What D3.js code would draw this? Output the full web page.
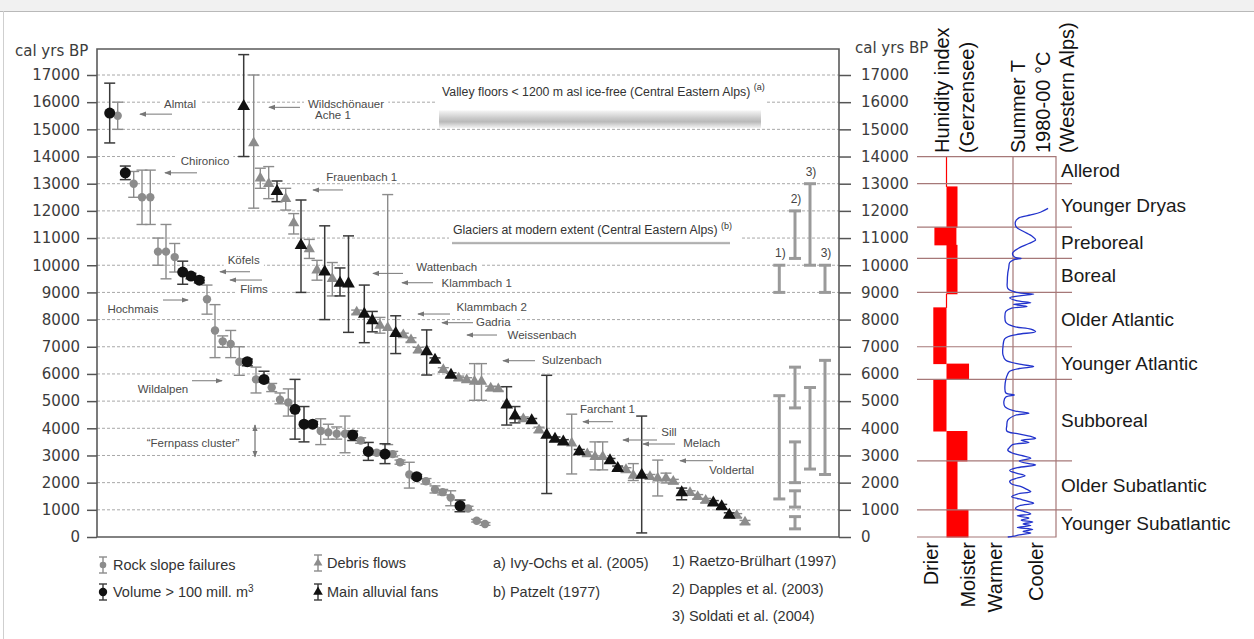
<!DOCTYPE html>
<html><head><meta charset="utf-8">
<script src="https://cdn.jsdelivr.net/npm/d3@7"></script>
<style>
body{margin:0;background:#fff;}
svg{display:block;}
</style></head>
<body>
<svg id="chart" width="1254" height="639"></svg>
<script>
// ================= DATA =================
const yearTicks = [0,1000,2000,3000,4000,5000,6000,7000,8000,9000,10000,11000,12000,13000,14000,15000,16000,17000];
const gridYears = yearTicks.slice(1);

// [sequence position, age (cal yrs BP), upper age, lower age]
const rockSlopeFailures = [
 [20.7,15500,16000,15000],[36.7,13000,13450,12500],[45,12500,13500,11500],[53.3,12500,13500,11500],
 [61,10500,11000,10000],[69,10500,11500,9500],[77.7,10300,10800,9750],[110,8750,9270,8200],
 [118,7600,8550,6600],[125.7,7200,7400,6980],[133.7,7100,7600,6600],[142.3,6450,7000,5950],
 [159,5800,6250,5300],[174.7,5500,5650,5350],[183,5050,5300,4900],[191.3,4950,5450,4450],
 [223.7,3900,4350,3400],[231.3,3850,4150,3600],[239.7,3800,4050,3600],[248,3800,4450,3100],
 [263.7,3550,3650,3450],[279.7,3100,3180,3020],[295.7,3050,3150,2950],[303,2750,2830,2680],
 [312.3,2300,2750,1800],[329,2050,2150,1950],[338,1750,1880,1620],[345.7,1650,1750,1550],
 [353.7,1450,1700,1150],[371,1050,1130,980],[379.7,600,650,550],[388,480,530,430]
];
const largeVolumeFailures = [
 [12.7,15600,16700,14500],[28.3,13400,13650,13150],[85.7,9750,10150,9300],[94,9600,9700,9500],
 [102.3,9450,9550,9350],[150.3,6450,6550,6300],[167,5800,6100,5700],[198,4700,5800,3600],
 [207,4150,4800,3500],[215.7,4150,4250,4050],[255.7,3750,3900,3550],[271.3,3150,3480,2820],
 [288,3050,3430,2700],[319.7,2220,2300,2150],[363,1150,1360,930]
];
const debrisFlows = [
 [156.7,14500,17000,12100],[163.3,13200,13570,12830],[171.7,13000,13630,12450],[188.7,12450,12830,12030],
 [196.7,11550,11900,11150],[212.3,10600,10950,10250],[220,9820,10180,9450],[235.3,9500,10100,8870],
 [259.7,8270,8350,8200],[283,7780,8080,7500],[290.7,7700,12600,3400],[306.3,7430,7500,7350],
 [314,7250,7330,7170],[321.3,6880,6980,6780],[346.3,6150,6230,6070],[361.7,5840,5920,5760],
 [369.7,5780,5860,5700],[377.5,5720,6380,5030],[384.5,5720,6380,5030],[393.7,5470,5550,5390],
 [401.3,5450,5530,5370],[426.3,4340,4420,4260],[442,3940,4040,3840],[474.7,3450,4520,2320],
 [490.3,3050,3130,2970],[498,2950,3500,2470],[505.7,2950,3500,2470],[529,2470,2550,2390],
 [536.3,2260,2700,2080],[553,2220,2300,2140],[560.7,2160,2830,1510],[569,2160,2350,1990],
 [576.3,2040,2120,1960],[593,1630,1700,1560],[600.7,1480,1560,1400],[608.7,1340,1420,1260],
 [639.7,790,860,720],[648,540,610,470]
];
const alluvialFans = [
 [146.7,15850,17750,14000],[180,12720,13100,12340],[204,10730,12400,9000],[227.7,9760,11450,8000],
 [243,9340,9900,8870],[251.5,9320,11080,7530],[267.3,8200,9270,7150],[275.3,7960,8300,7550],
 [298.7,7490,8140,6750],[329.7,6820,7620,5960],[338,6510,6590,6430],[354,5960,6040,5880],
 [409.7,4860,5530,4120],[418,4460,4800,4200],[434.7,4280,4360,4200],[449.7,3750,5950,1600],
 [458,3600,3680,3520],[466.3,3500,3580,3420],[482.3,3140,3220,3060],[513,2810,2890,2730],
 [520.7,2530,2610,2450],[544.7,2280,4450,150],[584.7,1630,1800,1370],[616.3,1260,1340,1180],
 [624.7,1120,1200,1040],[632.3,810,890,730]
];
// [sequence, upper, lower, reference tag]
const referenceRanges = [
 [682.3,10000,9000,"1)"],[698,12000,10250,"2)"],[713,13000,10000,"3)"],[728,10000,9000,"3)"],
 [682.3,5200,1400,""],[698,6250,4750,""],[698,3500,2000,""],[698,1700,1100,""],[698,750,300,""],
 [713,5500,2500,""],[728,6500,2300,""]
];
// humidity index steps: [older age, younger age, low, high]
const humiditySteps = [
 [14000,12900,0,0],[12900,11400,0,1],[11400,10750,-1.1,0.9],[10750,8950,0,1],[8950,8450,0,0],
 [8450,6380,-1.2,0],[6380,5800,0,2.05],[5800,3900,-1.2,0],[3900,2800,0,1.9],[2800,1000,0,1],[1000,0,0,2]
];
// summer temperature: [age, index (higher = cooler)]
const summerTemp = [
 [12090,4.8],[11950,4.0],[11850,3.0],[11750,1.8],[11600,1.4],[11400,1.5],[11250,2.2],[11050,3.2],[10930,3.5],
 [10800,2.8],[10600,1.6],[10440,1.1],[10300,1.3],[10250,2.0],[10200,1.2],[10100,0.8],[9900,0.7],[9700,0.6],
 [9400,0.55],[9150,0.6],[9000,1.5],[8940,3.3],[8880,2.0],[8800,0.8],[8700,1.5],[8620,3.0],[8560,1.2],
 [8480,2.6],[8420,1.0],[8300,0.4],[8100,0.3],[7900,0.4],[7750,1.2],[7650,3.0],[7555,3.5],[7450,1.5],
 [7300,0.3],[7000,0.1],[6700,0.1],[6500,0.4],[6350,2.0],[6270,3.3],[6200,1.8],[6100,0.8],[6000,0.6],
 [5800,0.4],[5500,0.3],[5300,0.4],[5225,1.3],[5150,0.4],[5000,0.2],[4800,0.3],[4650,1.2],[4550,2.8],
 [4480,1.4],[4300,0.6],[4100,0.5],[3900,0.5],[3800,1.6],[3700,3.0],[3630,3.5],[3560,2.0],[3480,2.8],
 [3400,1.1],[3300,0.8],[3200,0.6],[3100,1.0],[3000,2.0],[2900,3.0],[2800,1.8],[2700,2.8],[2650,3.5],
 [2550,1.6],[2450,0.8],[2350,1.5],[2250,2.4],[2150,1.4],[2050,0.8],[1950,1.0],[1850,2.0],[1750,2.6],
 [1670,3.0],[1580,1.6],[1480,1.0],[1400,1.8],[1300,2.8],[1240,3.3],[1150,1.8],[1050,1.4],[950,2.2],
 [850,3.0],[780,1.6],[700,2.8],[620,2.0],[550,3.2],[480,2.2],[420,3.0],[350,1.6],[280,3.2],[200,2.2],
 [150,3.0],[80,1.8],[30,1.2],[0,0.6]
];
// [name, older boundary, younger boundary]
const periods = [
 ["Allerod",14000,13000],["Younger Dryas",13000,11400],["Preboreal",11400,10250],["Boreal",10250,9000],
 ["Older Atlantic",9000,7000],["Younger Atlantic",7000,5800],["Subboreal",5800,2800],
 ["Older Subatlantic",2800,1000],["Younger Subatlantic",1000,0]
];
// site labels (data coordinates): label, text pos, anchor, arrow from->to at age
const annotations = [
 {t:"Almtal",tx:83,ty:15950,a:"middle",ax0:75,ax1:43,ay:15560},
 {t:"Wildschönauer",tx:211,ty:15930,a:"start",ax0:203,ax1:172,ay:15810},
 {t:"Ache 1",tx:218,ty:15525,a:"start"},
 {t:"Chironico",tx:108,ty:13830,a:"middle",ax0:100,ax1:68,ay:13400},
 {t:"Frauenbach 1",tx:264.7,ty:13256,a:"middle",ax0:246,ax1:216,ay:12770},
 {t:"Köfels",tx:146.7,ty:10190,a:"middle",ax0:153,ax1:123,ay:9760},
 {t:"Flims",tx:157,ty:9124,a:"middle",ax0:165,ax1:133,ay:9455},
 {t:"Hochmais",tx:36,ty:8390,a:"middle",ax0:66,ax1:91,ay:8720},
 {t:"Wildalpen",tx:66,ty:5445,a:"middle",ax0:95,ax1:125,ay:5750},
 {t:"Wattenbach",tx:349.7,ty:9945,a:"middle",ax0:306,ax1:276,ay:9700},
 {t:"Klammbach 1",tx:379.7,ty:9356,a:"middle",ax0:336,ax1:305,ay:9356},
 {t:"Klammbach 2",tx:394.7,ty:8473,a:"middle",ax0:353,ax1:321,ay:8205},
 {t:"Gadria",tx:396.3,ty:7921,a:"middle",ax0:376,ax1:345,ay:7885},
 {t:"Weissenbach",tx:445,ty:7432,a:"middle",ax0:400,ax1:370,ay:7432},
 {t:"Sulzenbach",tx:474.7,ty:6512,a:"middle",ax0:438,ax1:406,ay:6486},
 {t:"Farchant 1",tx:510.5,ty:4700,a:"middle",ax0:516,ax1:486,ay:4242},
 {t:"Sill",tx:572,ty:3852,a:"middle",ax0:560,ax1:526,ay:3569},
 {t:"Melach",tx:604.7,ty:3447,a:"middle",ax0:578,ax1:546,ay:3422},
 {t:"Voldertal",tx:634.7,ty:2465,a:"middle",ax0:616,ax1:583,ay:2807},
 {t:"\u201CFernpass cluster\u201D",tx:96,ty:3470,a:"middle"}
];

// ================= DRAW =================
const W = 1254, H = 639;
const F_MAIN = "'Liberation Sans', Arial, sans-serif";
const F_TICK = "'DejaVu Sans', sans-serif";
const GREY = "#8c8c8c";
const svg = d3.select("#chart");

svg.append("rect").attr("width",W).attr("height",H).attr("fill","#fff");
svg.append("rect").attr("width",W).attr("height",11).attr("fill","#f1f1f1");
svg.append("line").attr("x1",0).attr("x2",W).attr("y1",11.5).attr("y2",11.5).attr("stroke","#b9b9b9");
svg.append("line").attr("x1",3.5).attr("x2",3.5).attr("y1",11).attr("y2",H).attr("stroke","#cfcfcf");

const y = d3.scaleLinear().domain([0,17000]).range([537,75]);
const x = d3.scaleLinear().domain([0,742]).range([97,839]);
const PLOT_TOP = 49;

const defs = svg.append("defs");
const g1 = defs.append("linearGradient").attr("id","bandA").attr("x1",0).attr("x2",0).attr("y1",0).attr("y2",1);
[[0,"#f6f6f6"],[0.45,"#c9c9c9"],[0.65,"#b9b9b9"],[1,"#f3f3f3"]].forEach(s=>g1.append("stop").attr("offset",s[0]).attr("stop-color",s[1]));
const g2 = defs.append("linearGradient").attr("id","bandB").attr("x1",0).attr("x2",0).attr("y1",0).attr("y2",1);
[[0,"#e6e6e6"],[0.5,"#9a9a9a"],[1,"#e6e6e6"]].forEach(s=>g2.append("stop").attr("offset",s[0]).attr("stop-color",s[1]));
defs.append("marker").attr("id","arr").attr("viewBox","0 -4 8 8").attr("refX",7).attr("refY",0)
  .attr("markerWidth",7).attr("markerHeight",7).attr("markerUnits","userSpaceOnUse").attr("orient","auto-start-reverse")
  .append("path").attr("d","M0,-3L8,0L0,3").attr("fill","#777");

// grid
const gGrid = svg.append("g");
gGrid.selectAll("line").data(gridYears).join("line")
  .attr("x1",x(0)).attr("x2",x(742)).attr("y1",d=>y(d)).attr("y2",d=>y(d))
  .attr("stroke","#a8a8a8").attr("stroke-width",1).attr("stroke-dasharray","3,2");

const gMask = svg.append("g");
const gBands = svg.append("g");
const gBars = svg.append("g");
const gPts = svg.append("g");
const gAnn = svg.append("g");

// bands
gMask.append("rect").attr("x",435).attr("y",80).attr("width",332).attr("height",29).attr("fill","#fff");
gBands.append("rect").attr("x",439).attr("y",y(15700)).attr("width",322).attr("height",y(15050)-y(15700)).attr("fill","url(#bandA)");
const tA = gAnn.append("text").attr("x",442).attr("y",y(16400)).attr("dy","0.35em")
  .attr("font-family",F_MAIN).attr("font-size",12.3).attr("fill","#333");
tA.append("tspan").text("Valley floors < 1200 m asl ice-free (Central Eastern Alps) ");
tA.append("tspan").attr("font-size",9).attr("dy","-0.6em").text("(a)");
gMask.append("rect").attr("x",449).attr("y",220).attr("width",292).attr("height",20).attr("fill","#fff");
gBands.append("rect").attr("x",452).attr("y",y(10870)).attr("width",278).attr("height",y(10760)-y(10870)).attr("fill","url(#bandB)");
const tB = gAnn.append("text").attr("x",453).attr("y",y(11295)).attr("dy","0.35em")
  .attr("font-family",F_MAIN).attr("font-size",12.3).attr("fill","#333");
tB.append("tspan").text("Glaciers at modern extent (Central Eastern Alps) ");
tB.append("tspan").attr("font-size",9).attr("dy","-0.6em").text("(b)");

// error bars: rows are [seq, age, upper, lower]
function drawBars(data, color, width, cap){
  const g = gBars.append("g").attr("stroke",color).attr("stroke-width",width);
  g.selectAll("line.v").data(data).join("line").attr("class","v")
    .attr("x1",d=>x(d[0])).attr("x2",d=>x(d[0])).attr("y1",d=>y(d[2])).attr("y2",d=>y(d[3]));
  g.selectAll("line.t").data(data).join("line").attr("class","t")
    .attr("x1",d=>x(d[0])-cap).attr("x2",d=>x(d[0])+cap).attr("y1",d=>y(d[2])).attr("y2",d=>y(d[2]));
  g.selectAll("line.b").data(data).join("line").attr("class","b")
    .attr("x1",d=>x(d[0])-cap).attr("x2",d=>x(d[0])+cap).attr("y1",d=>y(d[3])).attr("y2",d=>y(d[3]));
}
drawBars(rockSlopeFailures, GREY, 1.4, 5.5);
drawBars(debrisFlows, GREY, 1.4, 5.5);
drawBars(largeVolumeFailures, "#3a3a3a", 1.5, 5.5);
drawBars(alluvialFans, "#3a3a3a", 1.5, 5.5);
drawBars(referenceRanges.map(d=>[d[0],(d[1]+d[2])/2,d[1],d[2]]), "#9a9a9a", 3, 6);
gAnn.selectAll("text.ref").data(referenceRanges.filter(d=>d[3])).join("text").attr("class","ref")
  .attr("x",d=>x(d[0])+1).attr("y",d=>y(d[1])-12).attr("dy","0.35em").attr("text-anchor","middle")
  .attr("font-family",F_MAIN).attr("font-size",12).attr("fill","#444").text(d=>d[3]);

// points
gPts.selectAll("circle.r").data(rockSlopeFailures).join("circle").attr("class","r")
  .attr("cx",d=>x(d[0])).attr("cy",d=>y(d[1])).attr("r",4.2).attr("fill",GREY);
gPts.selectAll("circle.v").data(largeVolumeFailures).join("circle").attr("class","v")
  .attr("cx",d=>x(d[0])).attr("cy",d=>y(d[1])).attr("r",5.5).attr("fill","#111");
const triG = d3.symbol().type(d3.symbolTriangle).size(55);
const triB = d3.symbol().type(d3.symbolTriangle).size(70);
gPts.selectAll("path.d").data(debrisFlows).join("path").attr("class","d")
  .attr("transform",d=>`translate(${x(d[0])},${y(d[1])})`).attr("d",triG).attr("fill",GREY);
gPts.selectAll("path.f").data(alluvialFans).join("path").attr("class","f")
  .attr("transform",d=>`translate(${x(d[0])},${y(d[1])})`).attr("d",triB).attr("fill","#111");

// annotations
annotations.forEach(a=>{
  const t = gAnn.append("text").attr("x",x(a.tx)).attr("y",y(a.ty)).attr("dy","0.35em")
    .attr("text-anchor",a.a).attr("font-family",F_MAIN).attr("font-size",11.5).attr("fill","#4a4a4a").text(a.t);
  const bb = t.node().getBBox();
  gMask.append("rect").attr("x",bb.x-4).attr("y",bb.y).attr("width",bb.width+8).attr("height",bb.height).attr("fill","#fff");
  if(a.ax0!==undefined){
    gAnn.append("line").attr("x1",x(a.ax0)).attr("x2",x(a.ax1)).attr("y1",y(a.ay)).attr("y2",y(a.ay))
      .attr("stroke","#777").attr("stroke-width",1).attr("marker-end","url(#arr)");
  }
});
// Fernpass double arrow
gAnn.append("line").attr("x1",x(158)).attr("x2",x(158)).attr("y1",y(4120)).attr("y2",y(2955))
  .attr("stroke","#555").attr("marker-start","url(#arr)").attr("marker-end","url(#arr)");

// frame and axes
const gFrame = svg.append("g");
gFrame.append("path").attr("d",`M${x(0)},${y(0)}V${PLOT_TOP}H${x(742)}V${y(0)}H${x(0)}`)
  .attr("fill","none").attr("stroke","#5a5a5a").attr("stroke-width",1.6);

const axL = d3.axisLeft(y).tickValues(yearTicks).tickSize(10).tickPadding(7).tickFormat(d3.format("d"));
const gL = svg.append("g").attr("transform",`translate(${x(0)},0)`).call(axL);
const axR = d3.axisRight(y).tickValues(yearTicks).tickSize(12).tickPadding(10).tickFormat(d3.format("d"));
const gR = svg.append("g").attr("transform",`translate(${x(742)},0)`).call(axR);
[gL,gR].forEach(g=>{
  g.select(".domain").remove();
  g.selectAll(".tick line").attr("stroke","#555").attr("stroke-width",1.5);
  g.selectAll(".tick text").attr("font-family",F_TICK).attr("font-size",15).attr("fill","#3c3c3c");
});
svg.append("text").attr("x",15).attr("y",51).attr("dy","0.35em").attr("font-family",F_TICK)
  .attr("font-size",15).attr("fill","#3c3c3c").text("cal yrs BP");
svg.append("text").attr("x",855).attr("y",48).attr("dy","0.35em").attr("font-family",F_TICK)
  .attr("font-size",15).attr("fill","#3c3c3c").text("cal yrs BP");

// ================= RIGHT PANEL =================
const hx = d3.scaleLinear().domain([-1,2]).range([935.5,968.5]);
const tx = d3.scaleLinear().domain([0,5]).range([1002,1050]);
const PL = 917, PR = 1056, PD = 1013, PEXT = 1072;
const lineCol = "#a67878";
const gP = svg.append("g");
gP.selectAll("rect.h").data(humiditySteps).join("rect").attr("class","h")
  .attr("x",d=> d[3]-d[2] > 0 ? hx(d[2]) : hx(0)-0.6)
  .attr("width",d=> Math.max(1.2, hx(d[3])-hx(d[2])))
  .attr("y",d=>Math.min(y(d[0]),y(d[1])))
  .attr("height",d=>Math.abs(y(d[1])-y(d[0]))+0.5)
  .attr("fill","#ff0000");
gP.selectAll("line.p").data(periods.slice(1)).join("line").attr("class","p")
  .attr("x1",PL).attr("x2",PEXT).attr("y1",d=>y(d[1])).attr("y2",d=>y(d[1]))
  .attr("stroke",lineCol).attr("stroke-width",1.2);
gP.append("path").attr("d",`M${PL},${y(14000)}H${PR}V${y(0)}H${PL}M${PD},${y(14000)}V${y(0)}`)
  .attr("fill","none").attr("stroke",lineCol).attr("stroke-width",1.2);
gP.append("path").datum(summerTemp)
  .attr("d",d3.line().x(d=>tx(d[1])).y(d=>y(d[0])).curve(d3.curveCatmullRom.alpha(0.5)))
  .attr("fill","none").attr("stroke","#2233cc").attr("stroke-width",1.3);
gP.selectAll("text.pl").data(periods).join("text").attr("class","pl")
  .attr("x",1061).attr("y",d=>y((d[1]+d[2])/2)).attr("dy","0.35em")
  .attr("font-family",F_MAIN).attr("font-size",19).attr("fill","#1a1a1a").text(d=>d[0]);
const topTitles = [["Hunidity index",942],["(Gerzensee)",966.5],["Summer T",1017.5],["1980-00 °C",1042.5],["(Western Alps)",1067]];
gP.selectAll("text.tt").data(topTitles).join("text").attr("class","tt")
  .attr("transform",d=>`translate(${d[1]},153) rotate(-90)`).attr("dy","0.35em")
  .attr("text-anchor","start").attr("font-family",F_MAIN).attr("font-size",20).attr("fill","#111").text(d=>d[0]);
const botTitles = [["Drier",930.5],["Moister",967.5],["Warmer",994.5],["Cooler",1035.5]];
gP.selectAll("text.bt").data(botTitles).join("text").attr("class","bt")
  .attr("transform",d=>`translate(${d[1]},542) rotate(-90)`).attr("dy","0.35em")
  .attr("text-anchor","end").attr("font-family",F_MAIN).attr("font-size",20).attr("fill","#111").text(d=>d[0]);

// ================= LEGEND =================
const gLeg = svg.append("g").attr("font-family",F_MAIN).attr("font-size",14.5).attr("fill","#333");
function legSym(cx, cy, kind){
  const col = (kind==="rock"||kind==="debris") ? GREY : "#3a3a3a";
  gLeg.append("line").attr("x1",cx).attr("x2",cx).attr("y1",cy-8).attr("y2",cy+8).attr("stroke",col).attr("stroke-width",1.4);
  [cy-8,cy+8].forEach(v=>gLeg.append("line").attr("x1",cx-4).attr("x2",cx+4).attr("y1",v).attr("y2",v).attr("stroke",col).attr("stroke-width",1.4));
  if(kind==="rock") gLeg.append("circle").attr("cx",cx).attr("cy",cy).attr("r",3.3).attr("fill",GREY);
  if(kind==="vol") gLeg.append("circle").attr("cx",cx).attr("cy",cy).attr("r",4.2).attr("fill","#111");
  if(kind==="debris") gLeg.append("path").attr("transform",`translate(${cx},${cy})`).attr("d",d3.symbol().type(d3.symbolTriangle).size(34)).attr("fill",GREY);
  if(kind==="fan") gLeg.append("path").attr("transform",`translate(${cx},${cy})`).attr("d",d3.symbol().type(d3.symbolTriangle).size(40)).attr("fill","#111");
}
legSym(103,565,"rock"); legSym(103,592,"vol"); legSym(318,563,"debris"); legSym(318,592,"fan");
const legTexts = [
 ["Rock slope failures",113,565],["Debris flows",327,563],["Main alluvial fans",327,592],
 ["a) Ivy-Ochs et al. (2005)",493,563],["b) Patzelt (1977)",493,592],
 ["1) Raetzo-Brülhart (1997)",672,561],["2) Dapples et al. (2003)",672,589],["3) Soldati et al. (2004)",672,616]
];
legTexts.forEach(d=>gLeg.append("text").attr("x",d[1]).attr("y",d[2]).attr("dy","0.35em").text(d[0]));
const tv = gLeg.append("text").attr("x",113).attr("y",592).attr("dy","0.35em");
tv.append("tspan").text("Volume > 100 mill. m");
tv.append("tspan").attr("font-size",10).attr("dy","-0.55em").text("3");
</script>
</body></html>
